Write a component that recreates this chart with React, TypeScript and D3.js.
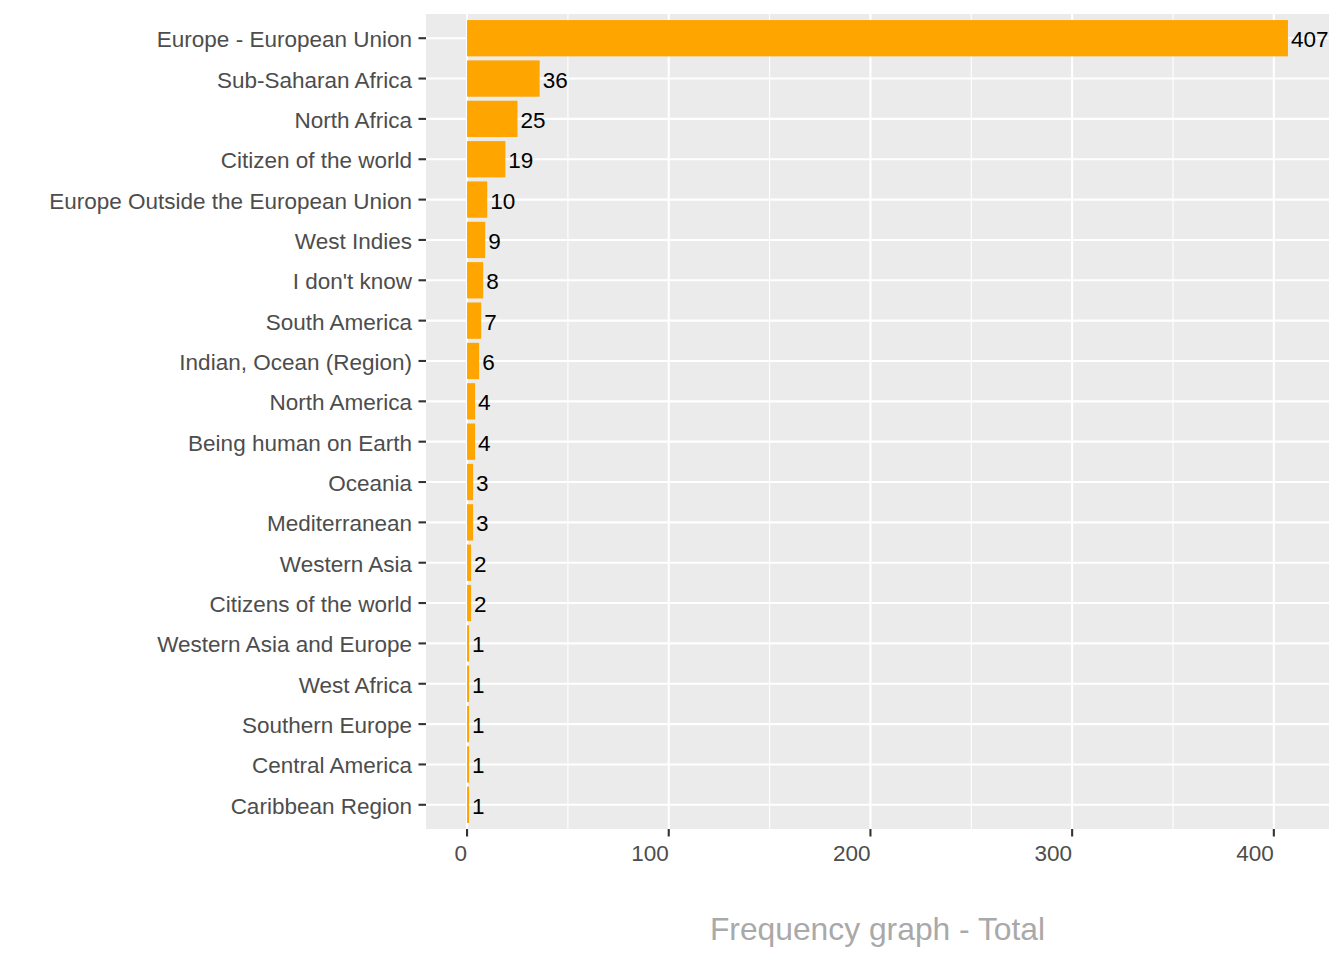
import React from "react";
import * as d3 from "d3";

const categories = [
  "Europe - European Union",
  "Sub-Saharan Africa",
  "North Africa",
  "Citizen of the world",
  "Europe Outside the European Union",
  "West Indies",
  "I don't know",
  "South America",
  "Indian, Ocean (Region)",
  "North America",
  "Being human on Earth",
  "Oceania",
  "Mediterranean",
  "Western Asia",
  "Citizens of the world",
  "Western Asia and Europe",
  "West Africa",
  "Southern Europe",
  "Central America",
  "Caribbean Region",
];
const values = [407, 36, 25, 19, 10, 9, 8, 7, 6, 4, 4, 3, 3, 2, 2, 1, 1, 1, 1, 1];
const xTicks = [0, 100, 200, 300, 400];
const xMinorTicks = [50, 150, 250, 350];
const title = "Frequency graph - Total";

const W = 1344;
const H = 960;
const panel = { left: 426, right: 1329, top: 14, bottom: 829 };
const FONT = "'Liberation Sans', Arial, sans-serif";
const FS = 22.5;

export default function App() {
  const maxV = d3.max(values) as number;
  const pad = maxV * 0.05;
  const x = d3.scaleLinear().domain([-pad, maxV + pad]).range([panel.left, panel.right]);
  const n = categories.length;
  const step = (panel.bottom - panel.top) / (n - 1 + 1.2);
  const yc = (i: number) => panel.top + step * (0.6 + i);
  const barH = step * 0.9;

  return (
    <div style={{ position: "absolute", left: 0, top: 0 }}>
      <svg width={W} height={H} style={{ display: "block", background: "#fff" }} fontFamily={FONT}>
        <rect x={panel.left} y={panel.top} width={panel.right - panel.left} height={panel.bottom - panel.top} fill="#EBEBEB" />
        {xMinorTicks.map((t) => (
          <line key={"m" + t} x1={x(t)} x2={x(t)} y1={panel.top} y2={panel.bottom} stroke="#fff" strokeWidth={1.1} />
        ))}
        {xTicks.map((t) => (
          <line key={"M" + t} x1={x(t)} x2={x(t)} y1={panel.top} y2={panel.bottom} stroke="#fff" strokeWidth={2.1} />
        ))}
        {categories.map((c, i) => (
          <line key={"g" + i} x1={panel.left} x2={panel.right} y1={yc(i)} y2={yc(i)} stroke="#fff" strokeWidth={2.1} />
        ))}
        {values.map((v, i) => (
          <rect key={"b" + i} x={x(0)} y={yc(i) - barH / 2} width={x(v) - x(0)} height={barH} fill="#FFA500" />
        ))}
        {values.map((v, i) => (
          <text key={"v" + i} x={x(v) + 3} y={yc(i)} dy="0.4em" fontSize={FS} fill="#000">
            {v}
          </text>
        ))}
        {categories.map((c, i) => (
          <g key={"y" + i}>
            <line x1={panel.left - 7.5} x2={panel.left} y1={yc(i)} y2={yc(i)} stroke="#333" strokeWidth={2.1} />
            <text x={panel.left - 14} y={yc(i)} dy="0.4em" fontSize={FS} fill="#4D4D4D" textAnchor="end">
              {c}
            </text>
          </g>
        ))}
        {xTicks.map((t) => (
          <g key={"x" + t}>
            <line x1={x(t)} x2={x(t)} y1={panel.bottom} y2={panel.bottom + 7.5} stroke="#333" strokeWidth={2.1} />
            <text x={x(t)} y={panel.bottom + 32} fontSize={FS} fill="#4D4D4D" textAnchor="end">
              {t}
            </text>
          </g>
        ))}
        <text x={(panel.left + panel.right) / 2} y={940} fontSize={31.8} fill="#A9A9A9" textAnchor="middle">
          {title}
        </text>
      </svg>
    </div>
  );
}
